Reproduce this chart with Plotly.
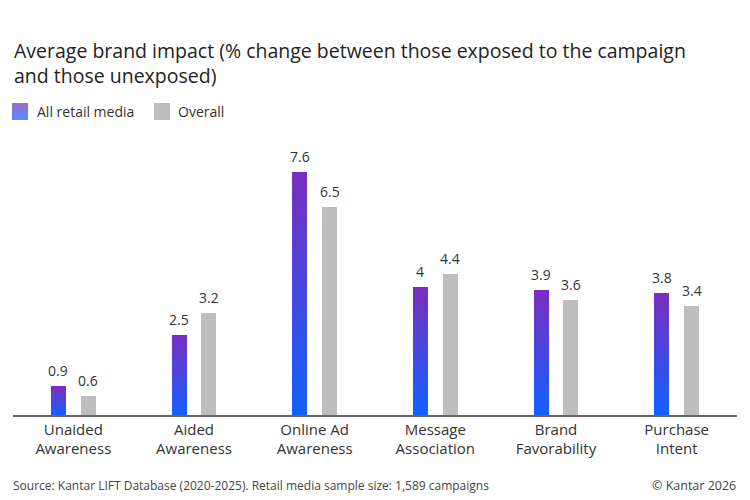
import plotly.graph_objects as go

# data
categories = ["Unaided<br>Awareness", "Aided<br>Awareness", "Online Ad<br>Awareness",
              "Message<br>Association", "Brand<br>Favorability", "Purchase<br>Intent"]
retail = [0.9, 2.5, 7.6, 4, 3.9, 3.8]
overall = [0.6, 3.2, 6.5, 4.4, 3.6, 3.4]
retail_labels = ["0.9", "2.5", "7.6", "4", "3.9", "3.8"]
overall_labels = ["0.6", "3.2", "6.5", "4.4", "3.6", "3.4"]
title_text = ("Average brand impact (% change between those exposed to the campaign"
              "<br>and those unexposed)")

FONT = "Open Sans"
TXT = "#333333"
GREY = "#bebebe"
TOP = (122, 47, 191)     # purple at top of gradient
BOT = (16, 96, 255)      # blue at bottom
N = 40                   # gradient slices
OFF = 0.124
W = 0.124

def mix(t):
    r = [round(BOT[i] + (TOP[i] - BOT[i]) * t) for i in range(3)]
    return "rgb(%d,%d,%d)" % tuple(r)

pos = list(range(len(categories)))
x_r = [p - OFF for p in pos]
x_o = [p + OFF for p in pos]

fig = go.Figure()

# gradient bars built from stacked slices of each value
for k in range(N):
    fig.add_trace(go.Bar(
        x=x_r, y=[v / N for v in retail], base=[v * k / N for v in retail],
        width=W, marker=dict(color=mix((k + 0.5) / N), line=dict(width=0)),
        showlegend=False, hoverinfo="skip"))

fig.add_trace(go.Bar(x=x_o, y=overall, width=W, name="Overall",
                     marker=dict(color=GREY, line=dict(width=0)), showlegend=False))

# pixel -> paper helpers (plot area 13..737 x, 159..415 y)
def px(x):
    return (x - 13) / 724.0

def py(y):
    return (415 - y) / 256.0

annotations = []
# value labels
for xs, vals, labs in [(x_r, retail, retail_labels), (x_o, overall, overall_labels)]:
    for x, v, t in zip(xs, vals, labs):
        annotations.append(dict(x=x, y=v, text=t, showarrow=False, yanchor="bottom",
                                yshift=4, font=dict(family=FONT, size=14, color=TXT)))

shapes = []
# legend swatches
for k in range(N):
    y0 = 120 - 17 * k / N
    y1 = 120 - 17 * (k + 1) / N
    shapes.append(dict(type="rect", xref="paper", yref="paper",
                       x0=px(12), x1=px(28), y0=py(y0), y1=py(y1),
                       fillcolor=mix((k + 0.5) / N), line=dict(width=0), layer="above"))
shapes.append(dict(type="rect", xref="paper", yref="paper",
                   x0=px(154), x1=px(170), y0=py(120), y1=py(103),
                   fillcolor=GREY, line=dict(width=0)))

annotations += [
    dict(text=title_text, x=px(12), y=py(63), xref="paper", yref="paper",
         xanchor="left", yanchor="middle", align="left", showarrow=False,
         font=dict(family=FONT, size=19.5, color="#222222")),
    dict(text="All retail media", x=px(35), y=py(111.5), xref="paper", yref="paper",
         xanchor="left", yanchor="middle", showarrow=False,
         font=dict(family=FONT, size=14, color=TXT)),
    dict(text="Overall", x=px(176), y=py(111.5), xref="paper", yref="paper",
         xanchor="left", yanchor="middle", showarrow=False,
         font=dict(family=FONT, size=14, color=TXT)),
    dict(text="Source: Kantar LIFT Database (2020-2025). Retail media sample size: 1,589 campaigns",
         x=px(11), y=py(485), xref="paper", yref="paper", xanchor="left", yanchor="middle",
         showarrow=False, font=dict(family=FONT, size=12, color="#444444")),
    dict(text="© Kantar 2026", x=px(738), y=py(485), xref="paper", yref="paper",
         xanchor="right", yanchor="middle", showarrow=False,
         font=dict(family=FONT, size=12.5, color="#444444")),
]

fig.update_layout(
    width=750, height=500,
    margin=dict(l=13, r=13, t=159, b=85),
    paper_bgcolor="white", plot_bgcolor="white",
    barmode="overlay", bargap=0,
    xaxis=dict(range=[-0.5, 5.5], tickvals=pos, ticktext=categories,
               showgrid=False, zeroline=False, showline=True, linecolor="#666666",
               linewidth=1.5, ticks="", tickfont=dict(family=FONT, size=15, color=TXT),
               fixedrange=True),
    yaxis=dict(range=[0, 8], visible=False, fixedrange=True),
    shapes=shapes, annotations=annotations,
    font=dict(family=FONT),
)

# drop the default 8px page margin so the figure sits at the window corner
fig.write_html("out.html", config={"displayModeBar": False},
               post_script="document.body.style.margin='0';")
